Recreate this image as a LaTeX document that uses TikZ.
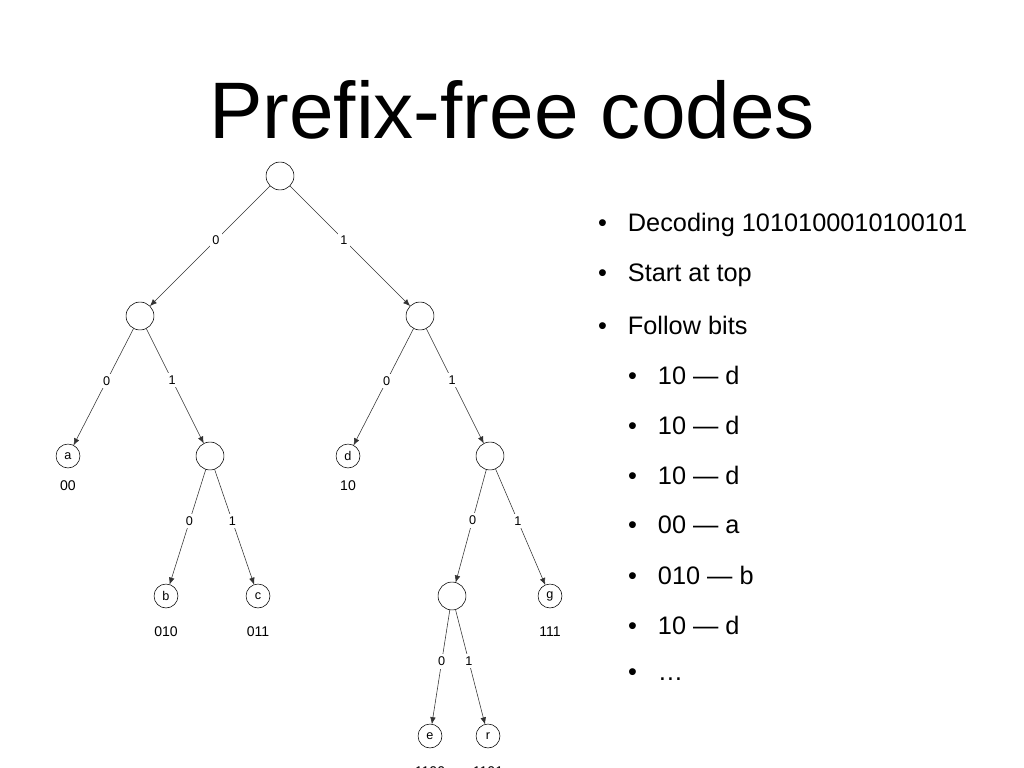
\documentclass[tikz,border=0pt]{standalone}
\usepackage{fontspec}
\setmainfont{Liberation Sans}
\usetikzlibrary{arrows.meta}
\begin{document}
\begin{tikzpicture}[x=0.025cm,y=-0.025cm,inner sep=0pt,outer sep=0pt,thin,
inode/.style={draw,circle,minimum size=28pt*0.709},
leaf/.style={draw,circle,minimum size=24pt*0.709,font=\fontsize{9}{9}\selectfont},
code/.style={font=\fontsize{10}{10}\selectfont},
bit/.style={fill=white,inner sep=2pt,font=\fontsize{9}{9}\selectfont},
edge/.style={-{Latex[length=5pt,width=4pt]},draw=black!80},
bul/.style={anchor=west,font=\fontsize{18}{18}\selectfont}]
\useasboundingbox (0,0) rectangle (1024,768);

\node[font=\fontsize{57}{57}\selectfont] (title) at (512,110) {Prefix-free codes};

% tree
\node[inode] (root) at (280,176) {};
\node[inode] (n0) at (140,316) {};
\node[inode] (n1) at (420,316) {};
\node[leaf] (a) at (68,456) {a};
\node[inode] (n01) at (210,456) {};
\node[leaf] (d) at (348,456) {d};
\node[inode] (n11) at (490,456) {};
\node[leaf] (b) at (166,596) {b};
\node[leaf] (c) at (258,596) {c};
\node[inode] (n110) at (452,596) {};
\node[leaf] (g) at (550,596) {g};
\node[leaf] (e) at (430,736) {e};
\node[leaf] (r) at (488,736) {r};

\draw[edge] (root) -- node[bit,pos=.45] {0} (n0);
\draw[edge] (root) -- node[bit,pos=.45] {1} (n1);
\draw[edge] (n0) -- node[bit,pos=.45] {0} (a);
\draw[edge] (n0) -- node[bit,pos=.45] {1} (n01);
\draw[edge] (n1) -- node[bit,pos=.45] {0} (d);
\draw[edge] (n1) -- node[bit,pos=.45] {1} (n11);
\draw[edge] (n01) -- node[bit,pos=.45] {0} (b);
\draw[edge] (n01) -- node[bit,pos=.45] {1} (c);
\draw[edge] (n11) -- node[bit,pos=.45] {0} (n110);
\draw[edge] (n11) -- node[bit,pos=.45] {1} (g);
\draw[edge] (n110) -- node[bit,pos=.45] {0} (e);
\draw[edge] (n110) -- node[bit,pos=.45] {1} (r);

\node[code] (ca) at (68,486) {00};
\node[code] (cd) at (348,486) {10};
\node[code] (cb) at (166,632) {010};
\node[code] (cc) at (258,632) {011};
\node[code] (cg) at (550,632) {111};
\node[code] (ce) at (430,772) {1100};
\node[code] (cr) at (488,772) {1101};

% bullets
\foreach \y/\t in {225/Decoding 1010100010100101,275/Start at top,325/Follow bits}
  \node[bul] at (598,\y) {•\hspace{15pt}\t};
\foreach \y/\t in {375/10 — d,425/10 — d,475/10 — d,525/00 — a,575/010 — b,625/10 — d,675/…}
  \node[bul] at (628,\y) {•\hspace{15pt}\t};
\end{tikzpicture}
\end{document}
